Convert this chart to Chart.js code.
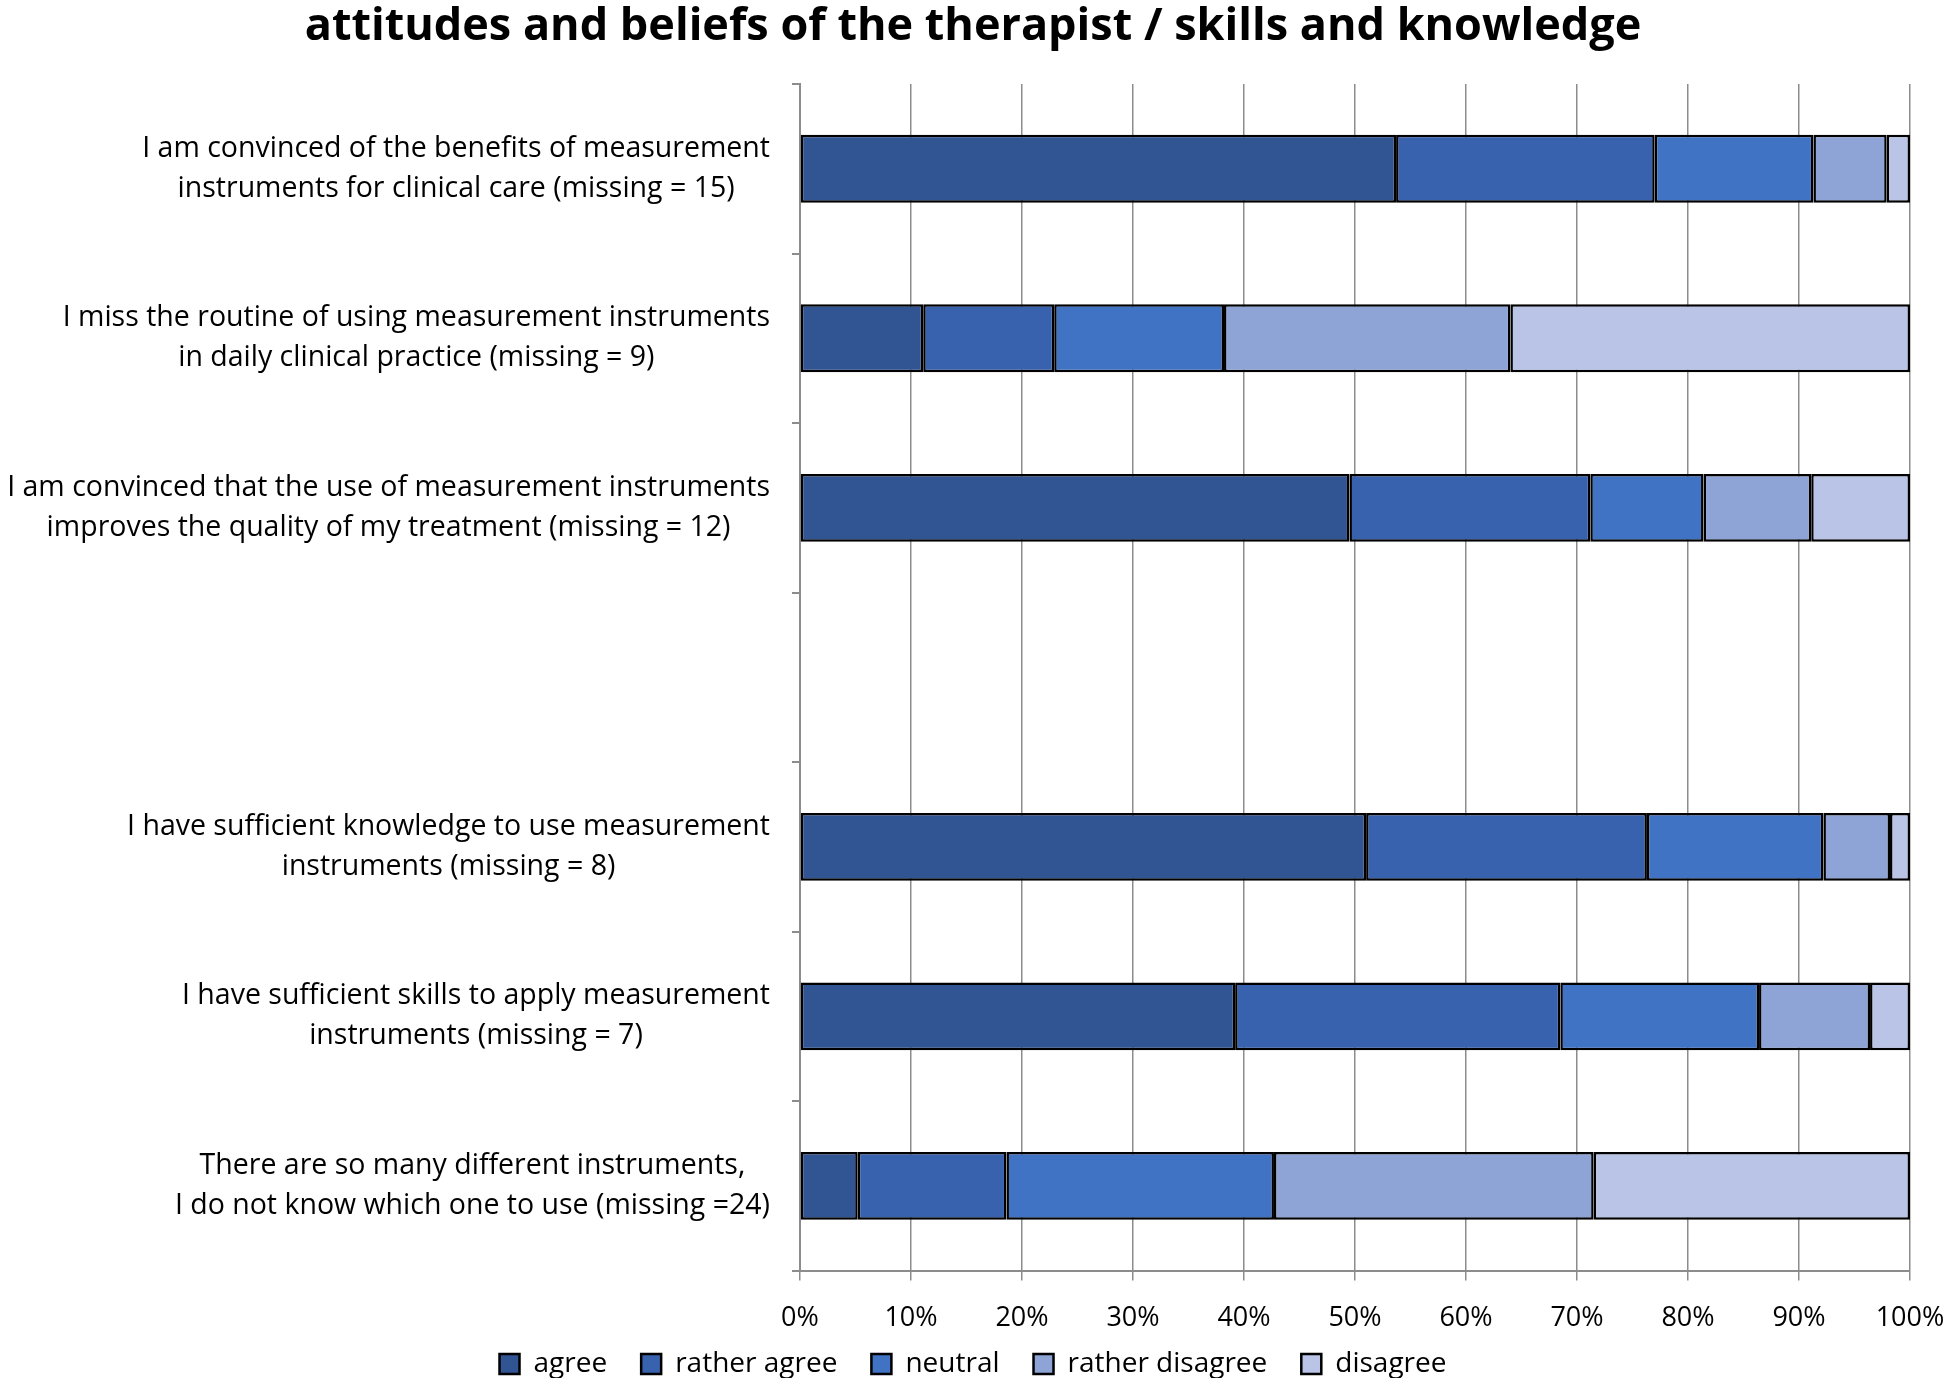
<!DOCTYPE html>
<html>
<head>
<meta charset="utf-8">
<script src="https://cdn.jsdelivr.net/npm/chart.js@4.4.1/dist/chart.umd.min.js"></script>
<style>
  body { margin: 0; background: #fff; }
  #wrap { width: 1946px; height: 1378px; position: relative; }
</style>
</head>
<body>
<div id="wrap"><canvas id="attChart"></canvas></div>
<script>
// categories (empty slot between the two blocks of statements)
const categories = [
    ['I am convinced of the benefits of measurement', 'instruments for clinical care (missing = 15)'],
    ['I miss the routine of using measurement instruments', 'in daily clinical practice (missing = 9)'],
    ['I am convinced that the use of measurement instruments', 'improves the quality of my treatment (missing = 12)'],
    [''],
    ['I have sufficient knowledge to use measurement', 'instruments (missing = 8)'],
    ['I have sufficient skills to apply measurement', 'instruments (missing = 7)'],
    ['There are so many different instruments,', 'I do not know which one to use (missing =24)']
];

// percentages
const agree           = [53.7, 11.1, 49.5, null, 51.0, 39.2,  5.2];
const ratherAgree     = [23.3, 11.8, 21.7, null, 25.3, 29.3, 13.4];
const neutral         = [14.3, 15.3, 10.2, null, 15.9, 17.9, 24.1];
const ratherDisagree  = [ 6.6, 25.8,  9.7, null,  6.0, 10.0, 28.8];
const disagree        = [ 2.1, 36.0,  8.9, null,  1.8,  3.6, 28.5];

const xTicks = [0, 10, 20, 30, 40, 50, 60, 70, 80, 90, 100];

const FONT = '"Open Sans", "Noto Sans", sans-serif';
const X_SQUEEZE = 41; // pull the legend up under the % labels

// draw the category labels right-aligned as blocks, each block centred
const blockLabels = {
    id: 'blockLabels',
    afterLayout(chart) {
        // let the % labels draw below the shortened x axis box (no clipping)
        chart.scales.x.bottom += X_SQUEEZE;
    },
    afterDraw(chart) {
        const scale = chart.scales.y;
        const c = chart.ctx;
        c.save();
        c.font = '28.5px ' + FONT;
        c.fillStyle = '#000';
        c.textAlign = 'center';
        c.textBaseline = 'middle';
        const lineH = 40;
        const rightEdge = scale.right - 30;
        categories.forEach((lines, i) => {
            const y = scale.getPixelForTick(i);
            const widest = Math.max(...lines.map(l => c.measureText(l).width));
            const cx = rightEdge - widest / 2;
            const y0 = y - (lines.length - 1) * lineH / 2;
            lines.forEach((l, k) => c.fillText(l, cx, y0 + k * lineH));
        });
        c.restore();
    }
};

const ctx = document.getElementById('attChart').getContext('2d');
const chart = new Chart(ctx, {
    type: 'bar',
    data: {
        labels: categories,
        datasets: [
            { label: 'agree',           data: agree,          backgroundColor: '#305592' },
            { label: 'rather agree',    data: ratherAgree,    backgroundColor: '#3862AE' },
            { label: 'neutral',         data: neutral,        backgroundColor: '#4173C5' },
            { label: 'rather disagree', data: ratherDisagree, backgroundColor: '#8FA4D6' },
            { label: 'disagree',        data: disagree,       backgroundColor: '#BAC4E6' }
        ].map(d => Object.assign(d, {
            borderColor: '#000',
            borderWidth: 2.5,
            borderSkipped: false,
            categoryPercentage: 1,
            barPercentage: 0.4
        }))
    },
    options: {
        indexAxis: 'y',
        responsive: true,
        maintainAspectRatio: false,
        animation: false,
        layout: { padding: { left: 0, right: 0, top: 0, bottom: -10 } },
        plugins: {
            title: {
                display: true,
                text: 'attitudes and beliefs of the therapist / skills and knowledge',
                color: '#000',
                font: { family: FONT, size: 45, weight: 'bold' },
                padding: { top: 0, bottom: 30 }
            },
            legend: {
                position: 'bottom',
                labels: {
                    color: '#000',
                    font: { family: FONT, size: 28 },
                    boxWidth: 20,
                    boxHeight: 20,
                    padding: 34
                }
            },
            tooltip: { enabled: false }
        },
        scales: {
            x: {
                stacked: true,
                min: 0,
                max: 100,
                afterBuildTicks: axis => { axis.ticks = xTicks.map(v => ({ value: v })); },
                afterFit: scale => {
                    scale.paddingLeft = 0;
                    scale.paddingRight = 36;
                    scale.height -= X_SQUEEZE;
                },
                ticks: {
                    color: '#000',
                    font: { family: FONT, size: 27 },
                    padding: 22,
                    maxRotation: 0,
                    callback: v => v + '%'
                },
                grid: { color: '#8c8c8c', lineWidth: 1.5, tickLength: 10 },
                border: { color: '#8c8c8c', width: 2 }
            },
            y: {
                stacked: true,
                afterFit: scale => { scale.width = 800; },
                ticks: { color: 'rgba(0,0,0,0)', font: { family: FONT, size: 26 } },
                grid: { drawOnChartArea: false, color: '#8c8c8c', lineWidth: 2, tickLength: 8, offset: true },
                border: { color: '#8c8c8c', width: 2 }
            }
        }
    },
    plugins: [blockLabels]
});
</script>
</body>
</html>
